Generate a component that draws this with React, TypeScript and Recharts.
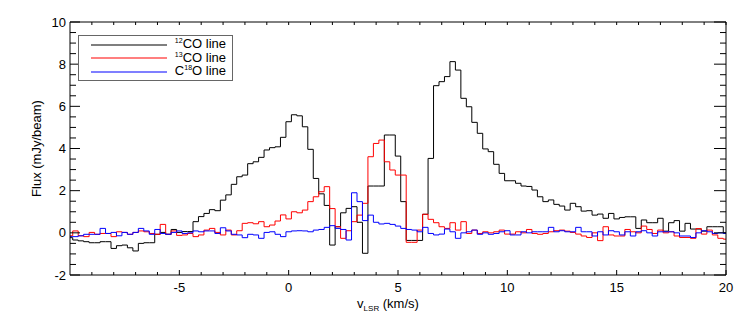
import React from 'react';
import { LineChart, Line, XAxis, YAxis, Legend, Label } from 'recharts';

// channel centres (km/s)
const VELOCITY = [
  -10, -9.75, -9.5, -9.25, -9, -8.75, -8.5, -8.25, -8, -7.75, -7.5, -7.25, -7, -6.75, -6.5, -6.25, -6, -5.75, -5.5, -5.25,
  -5, -4.75, -4.5, -4.25, -4, -3.75, -3.5, -3.25, -3, -2.75, -2.5, -2.25, -2, -1.75, -1.5, -1.25, -1, -0.75, -0.5, -0.25,
  0, 0.25, 0.5, 0.75, 1, 1.25, 1.5, 1.75, 2, 2.25, 2.5, 2.75, 3, 3.25, 3.5, 3.75, 4, 4.25, 4.5, 4.75,
  5, 5.25, 5.5, 5.75, 6, 6.25, 6.5, 6.75, 7, 7.25, 7.5, 7.75, 8, 8.25, 8.5, 8.75, 9, 9.25, 9.5, 9.75,
  10, 10.25, 10.5, 10.75, 11, 11.25, 11.5, 11.75, 12, 12.25, 12.5, 12.75, 13, 13.25, 13.5, 13.75, 14, 14.25, 14.5, 14.75,
  15, 15.25, 15.5, 15.75, 16, 16.25, 16.5, 16.75, 17, 17.25, 17.5, 17.75, 18, 18.25, 18.5, 18.75, 19, 19.25, 19.5, 19.75,
  20,
];

// flux (mJy/beam)
const CO12 = [
  -0.23, -0.34, -0.38, -0.42, -0.47, -0.47, -0.42, -0.42, -0.74, -0.61, -0.58, -0.71, -0.86, -0.5, -0.47, -0.47, -0.07, 0.02, -0.07, 0.16,
  0.02, 0.06, 0.06, 0.53, 0.77, 0.92, 1.1, 1.05, 1.55, 1.8, 2.3, 2.66, 2.74, 3.28, 3.37, 3.58, 3.93, 4.04, 4.08, 4.53,
  5.27, 5.6, 5.55, 5.03, 3.96, 2.58, 1.85, 1.3, -0.58, 0.29, 0.95, 1.16, 1.24, 0.5, -0.97, 2.22, 2.22, 2.22, 4.64, 4.64,
  3.64, 1.48, -0.36, -0.36, -0.36, 0.88, 3.53, 6.98, 7.17, 7.41, 8.12, 7.72, 6.38, 5.98, 5.24, 4.72, 3.98, 3.85, 3.25, 2.82,
  2.47, 2.47, 2.35, 2.22, 2.2, 2.03, 1.71, 1.48, 1.56, 1.35, 1.27, 1.08, 1.4, 1.24, 1.03, 1.05, 0.84, 0.89, 0.69, 0.92,
  0.66, 0.73, 0.76, 0.76, 0.21, 0.61, 0.48, 0.48, 0.69, 0.08, 0.48, 0.58, 0.08, 0.45, 0.18, 0.18, 0.08, 0.29, 0.29, 0.29,
  0.0,
];

const CO13 = [
  -0.14, 0.09, -0.14, -0.18, 0.02, -0.07, -0.03, -0.03, -0.18, 0.05, 0.02, -0.07, 0.02, 0.09, 0.05, -0.03, -0.07, 0.4, -0.07, 0.09,
  -0.12, -0.1, -0.03, -0.18, -0.1, 0.13, 0.21, 0.02, -0.1, 0.13, -0.1, 0.1, 0.45, 0.48, 0.43, 0.53, 0.29, 0.37, 0.56, 0.85,
  0.66, 1.0, 0.95, 1.08, 1.48, 1.71, 1.95, 2.19, 1.15, 0.29, -0.26, 0.1, 0.53, 0.84, 1.4, 3.61, 4.24, 4.4, 3.37, 2.98,
  2.74, 2.74, -0.45, -0.45, 0.13, 0.88, 0.64, 0.48, 0.29, 0.21, 0.48, 0.13, 0.53, -0.03, 0.13, -0.03, 0.05, 0.0, 0.05, 0.13,
  -0.06, -0.06, 0.05, 0.0, 0.16, -0.03, -0.07, -0.03, 0.05, 0.1, 0.13, 0.08, 0.02, -0.06, -0.15, -0.22, 0.0, -0.37, 0.29, -0.1,
  -0.15, -0.15, 0.16, 0.05, 0.0, 0.32, 0.16, -0.03, 0.13, 0.0, 0.05, -0.15, -0.22, -0.22, -0.26, 0.2, -0.06, 0.13, -0.1, -0.26,
  -0.3,
];

const C18O = [
  -0.18, -0.18, -0.14, -0.07, -0.07, -0.07, 0.21, -0.03, 0.02, -0.14, 0.02, -0.07, 0.02, 0.21, 0.09, -0.07, 0.16, -0.03, -0.07, 0.02,
  0.09, -0.03, 0.0, 0.09, 0.05, 0.09, 0.09, -0.03, 0.24, 0.09, -0.07, -0.1, -0.23, -0.07, -0.1, -0.26, 0.02, 0.05, -0.07, -0.18,
  0.05, 0.09, 0.1, 0.09, 0.05, 0.13, 0.16, 0.26, 0.34, 0.21, 0.16, -0.34, 1.9, 1.48, 0.58, 0.84, 0.5, 0.42, 0.45, 0.4,
  0.32, 0.21, 0.16, 0.13, 0.05, 0.26, -0.03, -0.1, -0.06, 0.18, 0.05, -0.26, 0.0, 0.05, 0.13, -0.07, 0.0, -0.07, -0.03, 0.05,
  0.1, -0.1, -0.1, 0.05, 0.0, 0.05, 0.05, 0.05, 0.26, 0.05, 0.1, 0.05, 0.05, 0.26, 0.05, 0.05, -0.15, 0.05, -0.1, 0.1,
  0.05, -0.1, 0.05, -0.15, 0.05, 0.1, 0.0, -0.15, 0.05, 0.05, 0.05, 0.0, -0.15, -0.15, -0.22, 0.0, 0.1, 0.05, -0.03, 0.0,
  -0.03,
];

// tick positions: every integer on x, every 0.5 on y; majors get labels
const X_TICKS = [-9, -8, -7, -6, -5, -4, -3, -2, -1, 0, 1, 2, 3, 4, 5, 6, 7, 8, 9, 10, 11, 12, 13, 14, 15, 16, 17, 18, 19, 20];
const X_MAJOR = [-5, 0, 5, 10, 15, 20];
const Y_TICKS = [-2, -1.5, -1, -0.5, 0, 0.5, 1, 1.5, 2, 2.5, 3, 3.5, 4, 4.5, 5, 5.5, 6, 6.5, 7, 7.5, 8, 8.5, 9, 9.5, 10];
const Y_MAJOR = [-2, 0, 2, 4, 6, 8, 10];

const SERIES = [
  { key: 'co12', color: '#000000', pre: '', iso: '12', post: 'CO line', values: CO12 },
  { key: 'co13', color: '#ff0000', pre: '', iso: '13', post: 'CO line', values: CO13 },
  { key: 'c18o', color: '#0000ff', pre: 'C', iso: '18', post: 'O line', values: C18O },
];

const FONT = '"Liberation Sans", Arial, Helvetica, sans-serif';
const X_DOMAIN: [number, number] = [-10, 20];
const Y_DOMAIN: [number, number] = [-2, 10];

const data = VELOCITY.map((v, i) => {
  const row: Record<string, number> = { v };
  SERIES.forEach(s => { row[s.key] = s.values[i]; });
  return row;
});

// inward ticks, IDL style
const BottomTick = ({ x, y, payload }: any) => {
  const major = X_MAJOR.includes(payload.value);
  return (
    <g>
      <line x1={x} x2={x} y1={y} y2={y - (major ? 5 : 3)} stroke="#000" />
      {major && (
        <text x={x} y={y + 17} textAnchor="middle" fontSize={13} fontFamily={FONT} fill="#000">{payload.value}</text>
      )}
    </g>
  );
};

const TopTick = ({ x, y }: any) => <line x1={x} x2={x} y1={y} y2={y + 3} stroke="#000" />;

const LeftTick = ({ x, y, payload }: any) => {
  const major = Y_MAJOR.includes(payload.value);
  return (
    <g>
      <line x1={x} x2={x + (major ? 10 : 6)} y1={y} y2={y} stroke="#000" />
      {major && (
        <text x={x - 4} y={y + 4.5} textAnchor="end" fontSize={13} fontFamily={FONT} fill="#000">{payload.value}</text>
      )}
    </g>
  );
};

const RightTick = ({ x, y, payload }: any) => {
  const major = Y_MAJOR.includes(payload.value);
  return <line x1={x} x2={x - (major ? 12 : 6)} y1={y} y2={y} stroke="#000" />;
};

const LegendBox = () => (
  <div style={{ width: 155, height: 46, boxSizing: 'border-box', border: '1px solid #666', paddingTop: 2, background: '#fff', fontFamily: FONT }}>
    {SERIES.map(s => (
      <div key={s.key} style={{ display: 'flex', alignItems: 'center', height: 13.5 }}>
        <svg width={76} height={4} style={{ marginLeft: 12, display: 'block' }}>
          <line x1={0} x2={76} y1={2} y2={2} stroke={s.color} strokeWidth={1.2} />
        </svg>
        <div style={{ flex: 1, textAlign: 'right', paddingRight: 6, fontSize: 13, lineHeight: '13px', color: '#000', whiteSpace: 'nowrap' }}>
          {s.pre}
          <span style={{ fontSize: 7, position: 'relative', top: -5 }}>{s.iso}</span>
          {s.post}
        </div>
      </div>
    ))}
  </div>
);

const XTitle = (props: any) => {
  const { viewBox } = props;
  const cx = viewBox.x + viewBox.width / 2 - 10;
  return (
    <text x={cx} y={viewBox.y + 33} textAnchor="middle" fontSize={13} fontFamily={FONT} fill="#000">
      v<tspan fontSize={8} dy={3}>LSR</tspan>
      <tspan dy={-3}> (km/s)</tspan>
    </text>
  );
};

const YTitle = (props: any) => {
  const { viewBox } = props;
  const x = viewBox.x + 41;
  const y = viewBox.y + viewBox.height / 2;
  return (
    <text x={x} y={y} transform={`rotate(-90 ${x} ${y})`} textAnchor="middle" fontSize={13} fontFamily={FONT} fill="#000" stroke="none">
      Flux (mJy/beam)
    </text>
  );
};

export default function App() {
  const black = { stroke: '#000' };
  return (
    <div style={{ position: 'absolute', left: 0, top: 0, width: 747, height: 320, background: '#fff' }}>
      <LineChart width={747} height={320} data={data} margin={{ top: 22, right: 21, bottom: 15, left: 0 }}>
        <XAxis xAxisId="v" dataKey="v" type="number" domain={X_DOMAIN} ticks={X_TICKS} interval={0}
          allowDataOverflow tickSize={0} tickLine={false} tickMargin={0} axisLine={black} tick={BottomTick} height={30}>
          <Label content={XTitle} />
        </XAxis>
        <YAxis yAxisId="f" type="number" domain={Y_DOMAIN} ticks={Y_TICKS} interval={0}
          allowDataOverflow tickSize={0} tickLine={false} tickMargin={0} axisLine={black} tick={LeftTick} width={70}>
          <Label content={YTitle} />
        </YAxis>
        <XAxis xAxisId="vTop" dataKey="v" type="number" orientation="top" mirror domain={X_DOMAIN} ticks={X_TICKS} interval={0}
          allowDataOverflow tickSize={0} tickLine={false} tickMargin={0} axisLine={black} tick={TopTick} />
        <YAxis yAxisId="fRight" type="number" orientation="right" mirror domain={Y_DOMAIN} ticks={Y_TICKS} interval={0}
          allowDataOverflow tickSize={0} tickLine={false} tickMargin={0} axisLine={black} tick={RightTick} />

        <Line xAxisId="v" yAxisId="f" type="step" dataKey="co12" stroke={SERIES[0].color}
          strokeWidth={1} dot={false} activeDot={false} isAnimationActive={false} />
        {/* 13CO drawn on the top/right frame axes (same domains) so the frame axes render */}
        <Line xAxisId="vTop" yAxisId="fRight" type="step" dataKey="co13" stroke={SERIES[1].color}
          strokeWidth={1} dot={false} activeDot={false} isAnimationActive={false} />
        <Line xAxisId="v" yAxisId="f" type="step" dataKey="c18o" stroke={SERIES[2].color}
          strokeWidth={1} dot={false} activeDot={false} isAnimationActive={false} />

        <Legend content={LegendBox} verticalAlign="middle" align="center" layout="horizontal"
          wrapperStyle={{ left: 78, top: 35, width: 155, height: 46 }} />
      </LineChart>
    </div>
  );
}
